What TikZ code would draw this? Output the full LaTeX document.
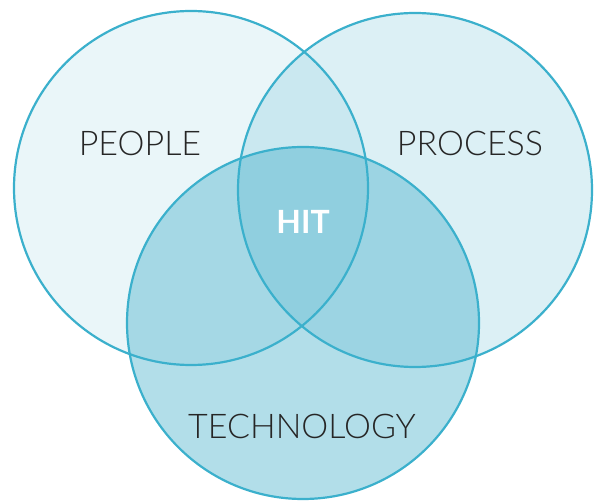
\documentclass[tikz,border=0pt]{standalone}
\usepackage{fontspec}
\setmainfont{Lato Light}
\newfontfamily\hitfont{Lato}
\definecolor{ringblue}{RGB}{59,176,204}
\definecolor{fillblue}{RGB}{40,163,194}
\tikzset{
  tag/.style={font=\fontsize{34}{34}\selectfont, text=black!85}
}

\begin{document}
\begin{tikzpicture}[x=1pt, y=-1pt]
					\useasboundingbox (0,0) rectangle (597,502);
					% circles
					\fill [fillblue, fill opacity=0.098] (191,188) circle [radius=177];
					\fill [fillblue, fill opacity=0.163] (415,190) circle [radius=177];
					\fill [fillblue, fill opacity=0.358] (303,323) circle [radius=176];
					\draw [ringblue, line width=2.2pt] (191,188) circle [radius=177];
					\draw [ringblue, line width=2.2pt] (415,190) circle [radius=177];
					\draw [ringblue, line width=2.2pt] (303,323) circle [radius=176];
					% labels
					\node[tag] (people) at (140,143) {PEOPLE} ;
					\node[tag] (process) at (470,143) {PROCESS} ;
					\node[tag] (technology) at (302,426) {TECHNOLOGY} ;
					\node[font=\hitfont\bfseries\fontsize{32}{32}\selectfont, text=white] (hit) at (303,222) {HIT} ;

				\end{tikzpicture}
\end{document}
